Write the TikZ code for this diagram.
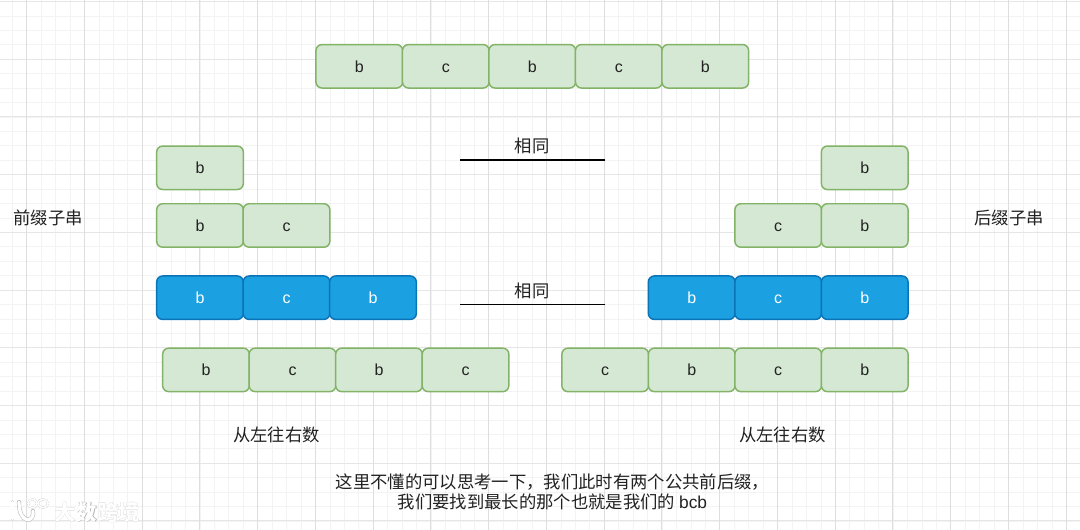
\documentclass[tikz,border=0pt]{standalone}
\usepackage{fontspec}
\setmainfont{Liberation Sans}
\newfontfamily\cjk{Noto Sans CJK SC}
\definecolor{gridminor}{HTML}{F3F3F3}
\definecolor{gridmajor}{HTML}{DEDEDE}
\definecolor{gridh}{HTML}{E6E6E6}
\definecolor{cellfill}{HTML}{D5E8D4}
\definecolor{celldraw}{HTML}{82B366}
\definecolor{bluefill}{HTML}{1BA1E2}
\definecolor{bluedraw}{HTML}{0B74B8}
\definecolor{inktext}{HTML}{222222}
\definecolor{wmshade}{HTML}{B0B0B0}
\tikzset{
  cell/.style={draw=celldraw,fill=cellfill,line width=1.1pt,rounded corners=4.5pt,
    minimum width=65pt,minimum height=32.6pt,inner sep=0pt,text height=8.6pt,text depth=0pt,
    font=\fontsize{12pt}{14pt}\selectfont,text=inktext},
  bluecell/.style={cell,draw=bluedraw,fill=bluefill,text=white},
  textlabel/.style={inner sep=0pt,font=\fontsize{13pt}{15pt}\cjk,text=inktext},
  blackrule/.style={line width=0.9pt,black},
  wmark/.style={inner sep=0pt,font=\fontsize{16pt}{18pt}\cjk\bfseries},
  pics/wmlogo/.style={code={
    \draw[line width=#1*1.8pt+0.9pt,line cap=round] (12.5,502) -- (12.5,519);
    \draw[line width=#1*2.2pt+0.9pt,line cap=round] (19,502) .. controls (19,525) and (35,523) .. (33,511);
    \draw[line width=#1*0.7pt+0.7pt] (32.5,503.5) ellipse[x radius=4.5,y radius=4.2];
    \draw[line width=#1*0.7pt+0.7pt] (43,503.5) ellipse[x radius=5,y radius=4.2];
  }}
}
\begin{document}
\begin{tikzpicture}[x=0.75pt,y=-0.75pt]
\useasboundingbox (0,0) rectangle (1080,530);
\fill[white] (0,0) rectangle (1080,530);
% grid
\foreach \i in {-1,...,74}{
  \draw[gridminor,line width=0.6pt] ({26.7+14.44*\i},0) -- ({26.7+14.44*\i},530);
}
\foreach \j in {0,...,36}{
  \draw[gridminor,line width=0.6pt] (0,{1.5+14.43*\j}) -- (1080,{1.5+14.43*\j});
}
\foreach \j in {0,...,9}{
  \draw[gridh,line width=0.75pt] (0,{1.5+57.72*\j}) -- (1080,{1.5+57.72*\j});
}
\foreach \i in {0,...,18}{
  \draw[gridmajor,line width=0.75pt] ({26.7+57.75*\i},0) -- ({26.7+57.75*\i},530);
}
% top row
\node[cell] (t1) at (359.3,66.3) {b};
\node[cell] (t2) at (445.8,66.3) {c};
\node[cell] (t3) at (532.3,66.3) {b};
\node[cell] (t4) at (618.8,66.3) {c};
\node[cell] (t5) at (705.3,66.3) {b};
% left prefixes
\node[cell] (a1) at (200,167.8) {b};
\node[cell] (b1) at (200,225.5) {b};
\node[cell] (b2) at (286.5,225.5) {c};
\node[bluecell] (c1) at (200,297.7) {b};
\node[bluecell] (c2) at (286.5,297.7) {c};
\node[bluecell] (c3) at (373,297.7) {b};
\node[cell] (d1) at (206,369.9) {b};
\node[cell] (d2) at (292.5,369.9) {c};
\node[cell] (d3) at (379,369.9) {b};
\node[cell] (d4) at (465.5,369.9) {c};
% right suffixes
\node[cell] (e1) at (864.7,167.8) {b};
\node[cell] (f1) at (778.2,225.5) {c};
\node[cell] (f2) at (864.7,225.5) {b};
\node[bluecell] (g1) at (691.7,297.7) {b};
\node[bluecell] (g2) at (778.2,297.7) {c};
\node[bluecell] (g3) at (864.7,297.7) {b};
\node[cell] (h1) at (605.2,369.9) {c};
\node[cell] (h2) at (691.7,369.9) {b};
\node[cell] (h3) at (778.2,369.9) {c};
\node[cell] (h4) at (864.7,369.9) {b};
% rules
\coordinate (r1a) at (460,160);
\coordinate (r1b) at (605,160);
\coordinate (r2a) at (460,304.5);
\coordinate (r2b) at (605,304.5);
\draw[blackrule] (r1a) -- (r1b);
\draw[blackrule] (r2a) -- (r2b);
% labels
\node[textlabel] (same1) at (532,145.5) {相同};
\node[textlabel] (same2) at (532,290.5) {相同};
\node[textlabel] (pre) at (48,218) {前缀子串};
\node[textlabel] (suf) at (1009,218) {后缀子串};
\node[textlabel] (ltr1) at (276.5,434.5) {从左往右数};
\node[textlabel] (ltr2) at (782.5,434.5) {从左往右数};
\node[textlabel,align=center] (note) at (552.5,492) {\setlength{\baselineskip}{16pt}这里不懂的可以思考一下，我们此时有两个公共前后缀，\\我们要找到最长的那个也就是我们的 {\rmfamily bcb}};
% watermark
\node[wmark,text=wmshade] (wms) at (97.6,512.6) {大数跨境};
\node[wmark,text=white] (wm) at (97,512) {大数跨境};
\begin{scope}[wmshade]
\pic {wmlogo=1};
\end{scope}
\begin{scope}[white]
\pic {wmlogo=0.7};
\end{scope}
\end{tikzpicture}
\end{document}
